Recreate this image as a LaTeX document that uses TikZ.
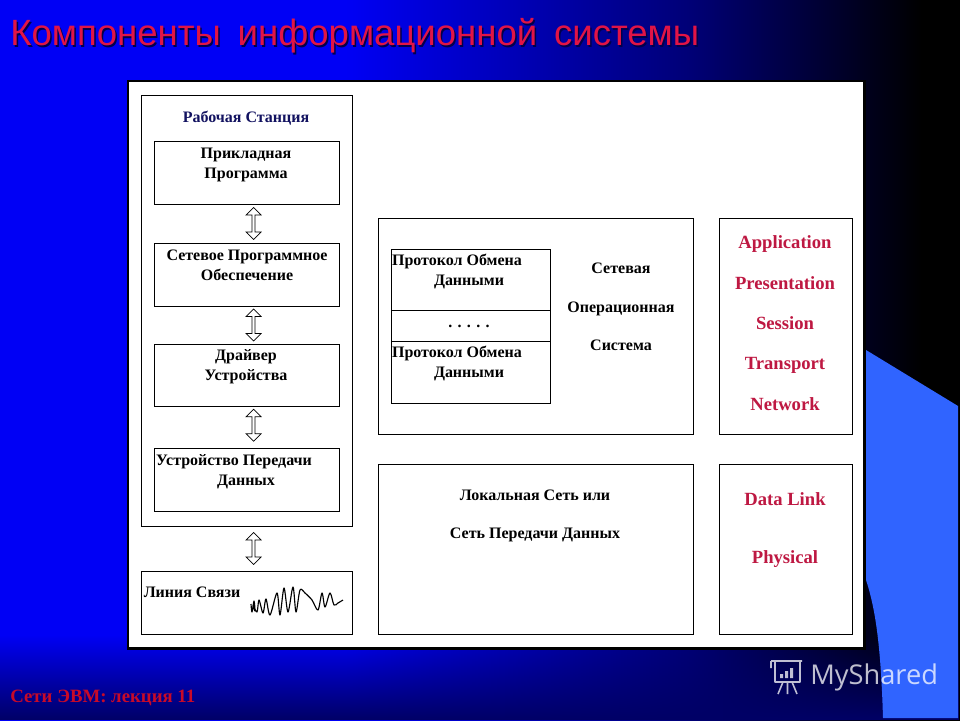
\documentclass[tikz,border=0pt]{standalone}
\usepackage{fontspec}
\setmainfont{Liberation Serif}
\newfontfamily\titlefont{Liberation Sans}
\newfontfamily\markfont{Open Sans}
\usepackage{xcolor}
\usetikzlibrary{arrows.meta,shapes.arrows,fit,fadings}
\definecolor{bgblue}{RGB}{0,0,245}
\definecolor{wedgeblue}{RGB}{48,100,255}
\definecolor{titlered}{RGB}{225,20,70}
\definecolor{layerred}{RGB}{190,24,66}
\definecolor{navytext}{RGB}{18,18,96}
\definecolor{footred}{RGB}{200,10,40}
\pgfdeclarehorizontalshading{slideshade}{100bp}{color(0bp)=(bgblue);color(43bp)=(bgblue);color(61bp)=(bgblue!48!black);color(73bp)=(black);color(100bp)=(black)}
\tikzset{
  box/.style={draw=black,fill=white,line width=0.45pt,inner sep=0pt},
  lbl/.style={font=\fontsize{9.1pt}{10pt}\selectfont\bfseries,text=black,inner sep=0pt,anchor=base,yshift=-3.1pt},
  layer/.style={font=\fontsize{10.6pt}{12pt}\selectfont\bfseries,text=layerred,inner sep=0pt,anchor=base,yshift=-3.4pt},
  updown/.style={draw=black,fill=white,line width=0.4pt,shape=double arrow,shape border rotate=90,
    minimum height=18.2pt,minimum width=8.6pt,double arrow head extend=0.8pt,inner sep=0pt,xshift=4pt}
}
\begin{document}
\begin{tikzpicture}[x=0.02cm,y=-0.02cm]
\useasboundingbox(0,0)rectangle(960,720);
\shade[shading=slideshade](0,0)rectangle(960,720);
\fill[black!60!blue,path fading=north](0,635)rectangle(960,720);
\fill[wedgeblue](866,350)--(958,406)--(958,718)--(883,718)..controls(881,650)and(876,610)..(866,580)--cycle;
\node[fill=black,inner sep=0pt,fit={(127,80)(866,650)}](frame){};
\node[fill=white,inner sep=0pt,fit={(129,82)(863,647)}](sheet){};
\node[box,fit={(141,95)(352,526)}](station){};
\node[box,fit={(154,141)(339,204)}](apps){};
\node[box,fit={(154,243)(339,306)}](netsoft){};
\node[box,fit={(154,344)(339,406)}](driver){};
\node[box,fit={(154,448)(339,511)}](device){};
\node[box,fit={(141,571)(352,634)}](wire){};
\node[box,fit={(378,218)(693,434)}](netos){};
\node[box,fit={(391,249)(550,310)}](protoa){};
\node[box,fit={(391,310)(550,341)}](dots){};
\node[box,fit={(391,341)(550,403)}](protob){};
\node[box,fit={(378,464)(693,634)}](lan){};
\node[box,fit={(719,218)(852,434)}](upper){};
\node[box,fit={(719,464)(852,634)}](lower){};
\path(apps)--node[updown]{}(netsoft);
\path(netsoft)--node[updown]{}(driver);
\path(driver)--node[updown,yshift=1pt]{}(device);
\path(station)--node[updown]{}(wire);
\node[lbl,text=navytext](stationlbl)at(246,117){Рабочая Станция};
\node[lbl](appsa)at(246,153){Прикладная};
\node[lbl](appsb)at(246,173){Программа};
\node[lbl](netsofta)at(247,255){Сетевое Программное};
\node[lbl](netsoftb)at(247,275){Обеспечение};
\node[lbl](drivera)at(246,355){Драйвер};
\node[lbl](driverb)at(246,375){Устройства};
\node[lbl](devicea)at(234,460){Устройство Передачи};
\node[lbl](deviceb)at(246,480){Данных};
\node[lbl](wirelbl)at(192,592){Линия Связи};
\node[lbl](protoaa)at(457,260){Протокол Обмена};
\node[lbl](protoab)at(469,280){Данными};
\node[lbl](dotslbl)at(469,322){. . . . .};
\node[lbl](protoba)at(457,352){Протокол Обмена};
\node[lbl](protobb)at(469,372){Данными};
\node[lbl](netosa)at(621,268){Сетевая};
\node[lbl](netosb)at(621,307){Операционная};
\node[lbl](netosc)at(621,345){Система};
\node[lbl](lana)at(535,495){Локальная Сеть или};
\node[lbl](lanb)at(535,533){Сеть Передачи Данных};
\node[layer](layera)at(785,243){Application};
\node[layer](layerb)at(785,284){Presentation};
\node[layer](layerc)at(785,324){Session};
\node[layer](layerd)at(785,364){Transport};
\node[layer](layere)at(785,405){Network};
\node[layer](layerf)at(785,500){Data Link};
\node[layer](layerg)at(785,558){Physical};
\draw[line width=0.65pt,line join=round]plot[smooth]coordinates{(251,604)(252,612)(254,601)(255,611)(253,605)(257,612)(259,600)(263,613)(266,599)(270,615)(277,593)(280,615)(284,588)(288,612)(293,587)(296,612)(300,590)(305,593)(312,600)(318,610)(322,593)(325,607)(330,593)(334,605)(338,603)(343,600)};
\node[anchor=west,inner sep=0pt,font=\titlefont\fontsize{20.8pt}{22pt}\selectfont,text=black!70!blue](titleshadow)at(11.5,37.5){Компоненты\hspace{.46em}информационной\hspace{.46em}системы};
\node[anchor=west,inner sep=0pt,font=\titlefont\fontsize{20.8pt}{22pt}\selectfont,text=titlered](titlelbl)at(10,36){Компоненты\hspace{.46em}информационной\hspace{.46em}системы};
\node[anchor=west,inner sep=0pt,font=\fontsize{10.7pt}{12pt}\selectfont\bfseries,text=footred](footlbl)at(10,698){Сети ЭВМ: лекция 11};
\node[anchor=west,inner sep=0pt,font=\markfont\fontsize{15.5pt}{17pt}\selectfont,text=white,text opacity=0.75](marklbl)at(810,677){MyShared};
\draw[white,opacity=0.75,line width=0.9pt,line join=round](771,661)--(802,661)(775,661)--(775,682)--(800,682)--(800,661)(771,661)--(771,668)(783,682)--(778,694)(792,682)--(797,694)(787.5,682)--(787.5,694);
\fill[white,opacity=0.75](780,674)rectangle(783,678)(785,671)rectangle(788,678)(790,668)rectangle(793,678);
\end{tikzpicture}
\end{document}
